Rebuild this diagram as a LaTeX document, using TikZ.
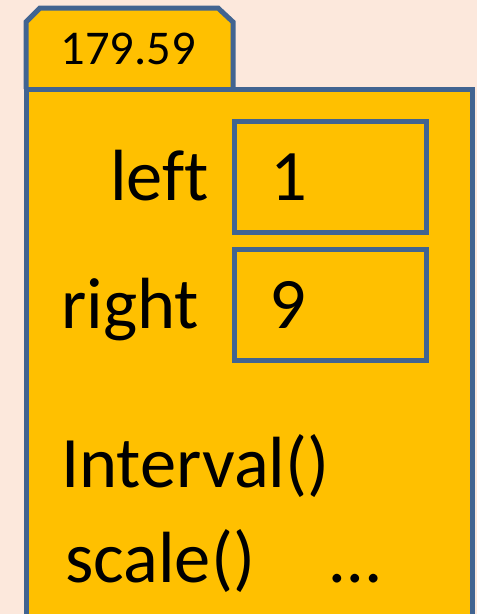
\documentclass[tikz,border=0pt]{standalone}
\usepackage{fontspec}
\setmainfont{Carlito}[Ligatures=CommonOff]
\definecolor{bgc}{RGB}{252,232,220}
\definecolor{fillc}{RGB}{255,192,0}
\definecolor{edgec}{RGB}{65,100,145}
\tikzset{
  objline/.style={draw=edgec, line width=5pt, line join=miter},
  valbox/.style={draw=edgec, line width=5pt, fill=fillc, minimum width=192pt, minimum height=111pt, inner sep=0pt},
  bigtxt/.style={font=\fontsize{72.5}{72.5}\selectfont, inner sep=0pt, text=black},
  tabtxt/.style={font=\fontsize{48.5}{48.5}\selectfont, inner sep=0pt, text=black}
}
\begin{document}
\begin{tikzpicture}[x=1pt,y=-1pt]
\fill[bgc] (0,0) rectangle (477,614);
\useasboundingbox (0,0) rectangle (477,614);
\clip (0,0) rectangle (477,614);
% tab
\path[fill=fillc] (26,89) -- (26,22) -- (40,8) -- (218,8) -- (233,22) -- (233,89) -- cycle;
\draw[objline] (26,89) -- (26,22) -- (40,8) -- (218,8) -- (233,22) -- (233,89);
% body
\path[fill=fillc] (26,89) rectangle (472,650);
\draw[objline] (26,650) -- (26,89) -- (472,89) -- (472,650);
% value boxes
\node[valbox] (leftbox) at (330,176.5) {};
\node[valbox] (rightbox) at (330,304.5) {};
% texts
\node[tabtxt, anchor=base] (tablabel) at (128,64) {179.59};
\node[bigtxt, anchor=base west] (lefttxt) at (110,200) {left};
\node[bigtxt, anchor=base] (leftval) at (289,200) {1};
\node[bigtxt, anchor=base west] (righttxt) at (61,328) {right};
\node[bigtxt, anchor=base] (rightval) at (288,328) {9};
\node[bigtxt, anchor=base west] (ctor) at (61,487) {Interval()};
\node[bigtxt, anchor=base west] (scaletxt) at (65,582) {scale()};
\node[bigtxt, anchor=base] (dots) at (356,582) {…};
\end{tikzpicture}
\end{document}
